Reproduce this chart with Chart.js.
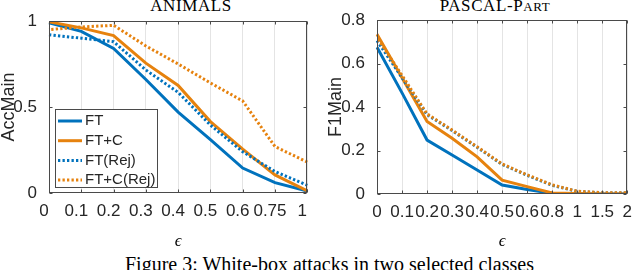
<!DOCTYPE html>
<html>
<head>
<meta charset="utf-8">
<script src="https://cdn.jsdelivr.net/npm/chart.js@4.4.0/dist/chart.umd.min.js"></script>
<style>
  body { margin: 0; width: 640px; height: 270px; overflow: hidden; background: #fff; position: relative; }
  canvas { position: absolute; top: 0; }
  .ttl { position: absolute; top: -3px; font-family: "Liberation Serif", "Times New Roman", serif; font-size: 17px; line-height: 17px;
         color: #000; white-space: nowrap; transform: translateX(-50%); letter-spacing: 0.6px; }
  #caption { position: absolute; left: 125px; top: 254px; font-family: "Liberation Serif", "Times New Roman", serif;
             font-size: 20px; line-height: 20px; color: #000; white-space: nowrap; }
</style>
</head>
<body>
<div class="ttl" style="left:191px">ANIMALS</div>
<div class="ttl" style="left:495px">PASCAL-P<span style="font-size:13px">ART</span></div>
<canvas id="animals" width="320" height="250" style="left:0"></canvas>
<canvas id="pascal" width="320" height="250" style="left:320px"></canvas>
<div id="caption">Figure 3: White-box attacks in two selected classes</div>

<script>
// ========== DATA ==========

const seriesNames = ['FT', 'FT+C', 'FT(Rej)', 'FT+C(Rej)'];

// left panel: ANIMALS
const animalEps = ['0', '0.1', '0.2', '0.3', '0.4', '0.5', '0.6', '0.75', '1'];
const animalFT      = [0.99, 0.94, 0.84, 0.66, 0.47, 0.31, 0.145, 0.06, 0.012];
const animalFTC     = [0.995, 0.96, 0.915, 0.755, 0.625, 0.415, 0.255, 0.105, 0.012];
const animalFTRej   = [0.92, 0.90, 0.88, 0.715, 0.585, 0.395, 0.24, 0.125, 0.045];
const animalFTCRej  = [0.95, 0.965, 0.975, 0.855, 0.75, 0.64, 0.535, 0.27, 0.18];
const animalYTicks  = [0, 0.5, 1];

// right panel: PASCAL-PART
const pascalEps = ['0', '0.1', '0.2', '0.3', '0.4', '0.5', '0.6', '0.8', '1', '1.5', '2'];
const pascalFT      = [0.675, 0.465, 0.248, 0.179, 0.11, 0.041, 0.021, 0.003, 0, 0, 0];
const pascalFTC     = [0.735, 0.535, 0.333, 0.256, 0.171, 0.064, 0.034, 0.005, 0.002, 0, 0];
const pascalFTRej   = [0.705, 0.535, 0.365, 0.292, 0.215, 0.136, 0.086, 0.04, 0.012, 0.005, 0.005];
const pascalFTCRej  = [0.72, 0.545, 0.368, 0.294, 0.217, 0.138, 0.088, 0.042, 0.013, 0.006, 0.006];
const pascalYTicks  = [0, 0.2, 0.4, 0.6, 0.8];

// ========== STYLE ==========

const BLUE = '#0072BD';
const ORANGE = '#E6820E';
const INK = '#262626';
const EDGE = '#4a4a4a';
const SANS = '"Liberation Sans", Arial, Helvetica, sans-serif';
const SERIF = '"Liberation Serif", "DejaVu Serif", "Times New Roman", serif';

function makeDatasets(series) {
  const looks = [
    { color: BLUE, dash: [], off: 0 },
    { color: ORANGE, dash: [], off: 0 },
    { color: BLUE, dash: [2.3, 2.2], off: 0 },
    { color: ORANGE, dash: [2.3, 2.2], off: 2.25 }
  ];
  return series.map((vals, i) => ({
    label: seriesNames[i],
    data: vals,
    borderColor: looks[i].color,
    backgroundColor: looks[i].color,
    borderWidth: 3,
    borderDash: looks[i].dash,
    borderDashOffset: looks[i].off,
    borderCapStyle: 'butt',
    borderJoinStyle: 'miter',
    pointRadius: 0,
    tension: 0,
    fill: false,
    order: 3 - i // later series drawn on top, like MATLAB
  }));
}

// box around the axes with small inward ticks
const framePlugin = {
  id: 'frame',
  afterDatasetsDraw(chart) {
    const { ctx, chartArea: a, scales } = chart;
    ctx.save();
    ctx.strokeStyle = EDGE;
    ctx.lineWidth = 1;
    ctx.setLineDash([]);
    const L = Math.round(a.left) + 0.5, R = Math.round(a.right) - 0.5;
    const T = Math.round(a.top) + 0.5, B = Math.round(a.bottom) - 0.5;
    ctx.strokeRect(L, T, R - L, B - T);
    ctx.beginPath();
    scales.x.ticks.forEach((t, i) => {
      const px = Math.round(scales.x.getPixelForTick(i)) + 0.5;
      ctx.moveTo(px, B); ctx.lineTo(px, B - 3);
      ctx.moveTo(px, T); ctx.lineTo(px, T + 3);
    });
    scales.y.ticks.forEach(t => {
      const py = Math.round(scales.y.getPixelForValue(t.value)) + 0.5;
      ctx.moveTo(L, py); ctx.lineTo(L + 3, py);
      ctx.moveTo(R, py); ctx.lineTo(R - 3, py);
    });
    ctx.stroke();
    ctx.restore();
  }
};

// legend drawn inside the plot, in a box (left panel only)
const boxLegend = {
  id: 'boxLegend',
  afterDraw(chart, args, o) {
    if (!o.show) return;
    const ctx = chart.ctx;
    ctx.save();
    ctx.fillStyle = '#fff';
    ctx.fillRect(o.x, o.y, o.w, o.h);
    ctx.strokeStyle = EDGE;
    ctx.lineWidth = 1;
    ctx.strokeRect(o.x + 0.5, o.y + 0.5, o.w, o.h);
    chart.data.datasets.forEach((d, i) => {
      const cy = o.y + o.first + i * o.step;
      ctx.strokeStyle = d.borderColor;
      ctx.lineWidth = d.borderWidth;
      ctx.setLineDash(d.borderDash);
      ctx.beginPath();
      ctx.moveTo(o.x + 3, cy);
      ctx.lineTo(o.x + 27, cy);
      ctx.stroke();
      ctx.setLineDash([]);
      ctx.fillStyle = INK;
      ctx.font = '15px ' + SANS;
      ctx.textBaseline = 'middle';
      ctx.fillText(d.label, o.x + 30, cy);
    });
    ctx.restore();
  }
};

function makeChart(id, labels, series, yTicks, yMax, yTitle, lay) {
  return new Chart(document.getElementById(id), {
    type: 'line',
    data: { labels: labels, datasets: makeDatasets(series) },
    plugins: [framePlugin, boxLegend],
    options: {
      responsive: false,
      animation: false,
      layout: { padding: { top: lay.top, right: lay.right, left: 0, bottom: 0 } },
      plugins: {
        legend: { display: false },
        tooltip: { enabled: false },
        boxLegend: lay.legend || { show: false }
      },
      scales: {
        x: {
          type: 'category',
          offset: false,
          grid: { color: '#e4e4e4', drawTicks: false, lineWidth: 1 },
          border: { display: false },
          ticks: { font: { family: SANS, size: 17 }, color: INK, padding: 8, maxRotation: 0, autoSkip: false,
                   labelOffset: lay.labelOffset },
          title: { display: true, text: 'ϵ', color: '#000',
                   font: { family: SERIF, size: 17, style: 'italic', lineHeight: 1 }, padding: { top: 13, bottom: 0 } },
          afterFit: s => { s.height = lay.xHeight; }
        },
        y: {
          min: 0,
          max: yMax,
          grid: { display: false },
          border: { display: false },
          afterBuildTicks: s => { s.ticks = yTicks.map(v => ({ value: v })); },
          ticks: { font: { family: SANS, size: 17 }, color: INK, padding: 4, callback: v => String(v) },
          title: { display: true, text: yTitle, color: INK,
                   font: { family: SANS, size: 18, lineHeight: 1 }, padding: { top: lay.titlePad, bottom: 0 } },
          afterFit: s => { s.width = lay.yWidth; }
        }
      }
    }
  });
}

makeChart('animals', animalEps, [animalFT, animalFTC, animalFTRej, animalFTCRej], animalYTicks, 1, 'AccMain', {
  top: 21, right: 11, yWidth: 49, xHeight: 57, titlePad: 0, labelOffset: -5,
  legend: { show: true, x: 55, y: 109, w: 102, h: 78, first: 12, step: 19.7 }
});

makeChart('pascal', pascalEps, [pascalFT, pascalFTC, pascalFTRej, pascalFTCRej], pascalYTicks, 0.8, 'F1Main', {
  top: 20, right: 3, yWidth: 57, xHeight: 56, titlePad: 7, labelOffset: 0
});
</script>
</body>
</html>
